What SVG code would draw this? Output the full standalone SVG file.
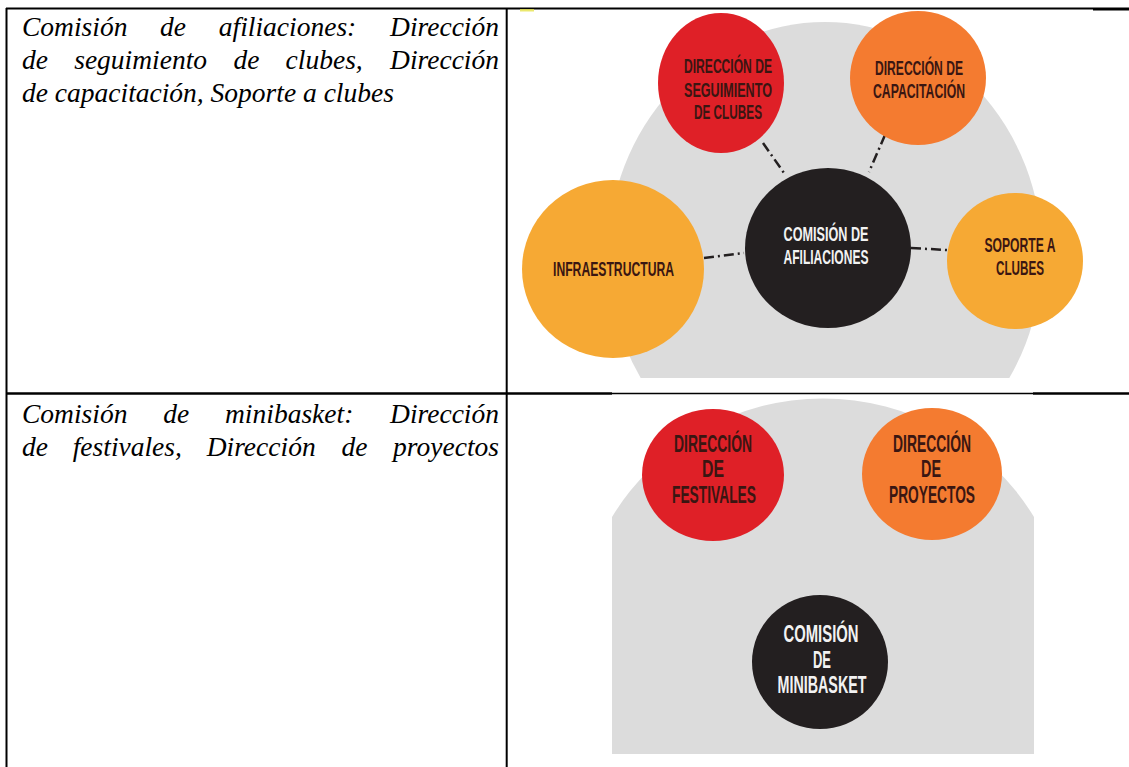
<svg xmlns="http://www.w3.org/2000/svg" width="1129" height="767" viewBox="0 0 1129 767">
<defs>
<style>
.doc{font-family:"Liberation Serif","Times New Roman",serif;font-style:italic;font-size:27.5px;fill:#000}
.grid{stroke:#000;fill:none}
.bg{fill:#dcdcdc}
.red{fill:#df2027}
.orange{fill:#f47b30}
.yellow{fill:#f6a934}
.black{fill:#231f20}
.lbl{font-family:"Liberation Sans Narrow","Liberation Sans","DejaVu Sans Condensed",sans-serif;font-weight:bold;text-anchor:middle}
.s1{font-size:21px}
.s2{font-size:23px}
.dk{fill:#3a1612}
.wt{fill:#f2f2f2}
.conn{stroke:#231f20;stroke-width:2.5;fill:none;stroke-dasharray:10 4 2 4}
</style>
<clipPath id="clip1"><rect x="515" y="10" width="580" height="368"/></clipPath>
</defs>

<g id="table">
<line class="grid" x1="6" y1="8.5" x2="1093" y2="8.5" stroke-width="2"/>
<line class="grid" x1="1093" y1="9" x2="1129" y2="9" stroke-width="3"/>
<line class="grid" x1="6.5" y1="8" x2="6.5" y2="767" stroke-width="2"/>
<line class="grid" x1="506.7" y1="8" x2="506.7" y2="767" stroke-width="2"/>
<line class="grid" x1="6" y1="393.5" x2="612" y2="393.5" stroke-width="2.5"/>
<line class="grid" x1="612" y1="393.5" x2="1033" y2="393.5" stroke-width="1.5"/>
<line class="grid" x1="1033" y1="393.5" x2="1129" y2="393.5" stroke-width="2.5"/>
</g>

<g id="text-row1">
<text class="doc" y="35.7"><tspan x="22">Comisión</tspan><tspan x="160.1">de</tspan><tspan x="218.8">afiliaciones:</tspan><tspan x="499" text-anchor="end">Dirección</tspan></text>
<text class="doc" y="68.5"><tspan x="22">de</tspan><tspan x="74.2">seguimiento</tspan><tspan x="233.4">de</tspan><tspan x="285.6">clubes,</tspan><tspan x="499" text-anchor="end">Dirección</tspan></text>
<text class="doc" x="22" y="101.5">de capacitación, Soporte a clubes</text>
</g>

<g id="text-row2">
<text class="doc" y="423"><tspan x="22">Comisión</tspan><tspan x="163.2">de</tspan><tspan x="225">minibasket:</tspan><tspan x="499" text-anchor="end">Dirección</tspan></text>
<text class="doc" y="455.5"><tspan x="22">de</tspan><tspan x="72.7">festivales,</tspan><tspan x="206.7">Dirección</tspan><tspan x="341.4">de</tspan><tspan x="499" text-anchor="end">proyectos</tspan></text>
</g>

<g id="diagram1-bg">
<rect x="520" y="9" width="14" height="2.5" fill="#e6e24a" opacity="0.8"/>
<ellipse class="bg" cx="825" cy="255" rx="217" ry="233" clip-path="url(#clip1)"/>
</g>

<g id="connectors">
<line class="conn" x1="763" y1="143" x2="784" y2="173"/>
<line class="conn" x1="885" y1="135" x2="869" y2="172"/>
<line class="conn" x1="704" y1="258" x2="744" y2="253"/>
<line class="conn" x1="911" y1="248" x2="947" y2="250"/>
<line class="conn" x1="750" y1="535" x2="786" y2="596"/>
<line class="conn" x1="893" y1="533" x2="859" y2="596"/>
</g>

<g id="node-seguimiento">
<ellipse class="red" cx="721" cy="83" rx="63" ry="70"/>
<text class="lbl s1 dk" x="728" y="73" textLength="88" lengthAdjust="spacingAndGlyphs">DIRECCIÓN DE</text>
<text class="lbl s1 dk" x="728" y="96.5" textLength="88" lengthAdjust="spacingAndGlyphs">SEGUIMIENTO</text>
<text class="lbl s1 dk" x="728" y="119" textLength="68" lengthAdjust="spacingAndGlyphs">DE CLUBES</text>
</g>

<g id="node-capacitacion">
<ellipse class="orange" cx="918" cy="78" rx="68" ry="67"/>
<text class="lbl s1 dk" x="919" y="75" textLength="88" lengthAdjust="spacingAndGlyphs">DIRECCIÓN DE</text>
<text class="lbl s1 dk" x="919" y="98" textLength="92" lengthAdjust="spacingAndGlyphs">CAPACITACIÓN</text>
</g>

<g id="node-afiliaciones">
<ellipse class="black" cx="828" cy="248" rx="83" ry="80"/>
<text class="lbl s1 wt" x="826" y="241" textLength="85" lengthAdjust="spacingAndGlyphs">COMISIÓN DE</text>
<text class="lbl s1 wt" x="826" y="264" textLength="85" lengthAdjust="spacingAndGlyphs">AFILIACIONES</text>
</g>

<g id="node-infraestructura">
<ellipse class="yellow" cx="613" cy="269" rx="91" ry="89"/>
<text class="lbl s1 dk" x="613.5" y="276" textLength="121" lengthAdjust="spacingAndGlyphs">INFRAESTRUCTURA</text>
</g>

<g id="node-soporte">
<ellipse class="yellow" cx="1015" cy="261" rx="68" ry="68"/>
<text class="lbl s1 dk" x="1020" y="252" textLength="71" lengthAdjust="spacingAndGlyphs">SOPORTE A</text>
<text class="lbl s1 dk" x="1020" y="275" textLength="48" lengthAdjust="spacingAndGlyphs">CLUBES</text>
</g>

<g id="diagram2-bg">
<path class="bg" d="M612,754 L612,517 A247,247 0 0 1 1034,517 L1034,754 Z"/>
</g>

<g id="node-festivales">
<ellipse class="red" cx="713" cy="475" rx="71" ry="66"/>
<text class="lbl s2 dk" x="713" y="452" textLength="78" lengthAdjust="spacingAndGlyphs">DIRECCIÓN</text>
<text class="lbl s2 dk" x="713" y="477" textLength="22" lengthAdjust="spacingAndGlyphs">DE</text>
<text class="lbl s2 dk" x="714" y="503" textLength="84" lengthAdjust="spacingAndGlyphs">FESTIVALES</text>
</g>

<g id="node-proyectos">
<ellipse class="orange" cx="932" cy="474" rx="70" ry="66"/>
<text class="lbl s2 dk" x="932" y="452" textLength="78" lengthAdjust="spacingAndGlyphs">DIRECCIÓN</text>
<text class="lbl s2 dk" x="931" y="477" textLength="20" lengthAdjust="spacingAndGlyphs">DE</text>
<text class="lbl s2 dk" x="932" y="503" textLength="86" lengthAdjust="spacingAndGlyphs">PROYECTOS</text>
</g>

<g id="node-minibasket">
<ellipse class="black" cx="820" cy="662" rx="68" ry="67"/>
<text class="lbl s2 wt" x="821" y="642" textLength="75" lengthAdjust="spacingAndGlyphs">COMISIÓN</text>
<text class="lbl s2 wt" x="822" y="668" textLength="18" lengthAdjust="spacingAndGlyphs">DE</text>
<text class="lbl s2 wt" x="822" y="693" textLength="89" lengthAdjust="spacingAndGlyphs">MINIBASKET</text>
</g>
</svg>
